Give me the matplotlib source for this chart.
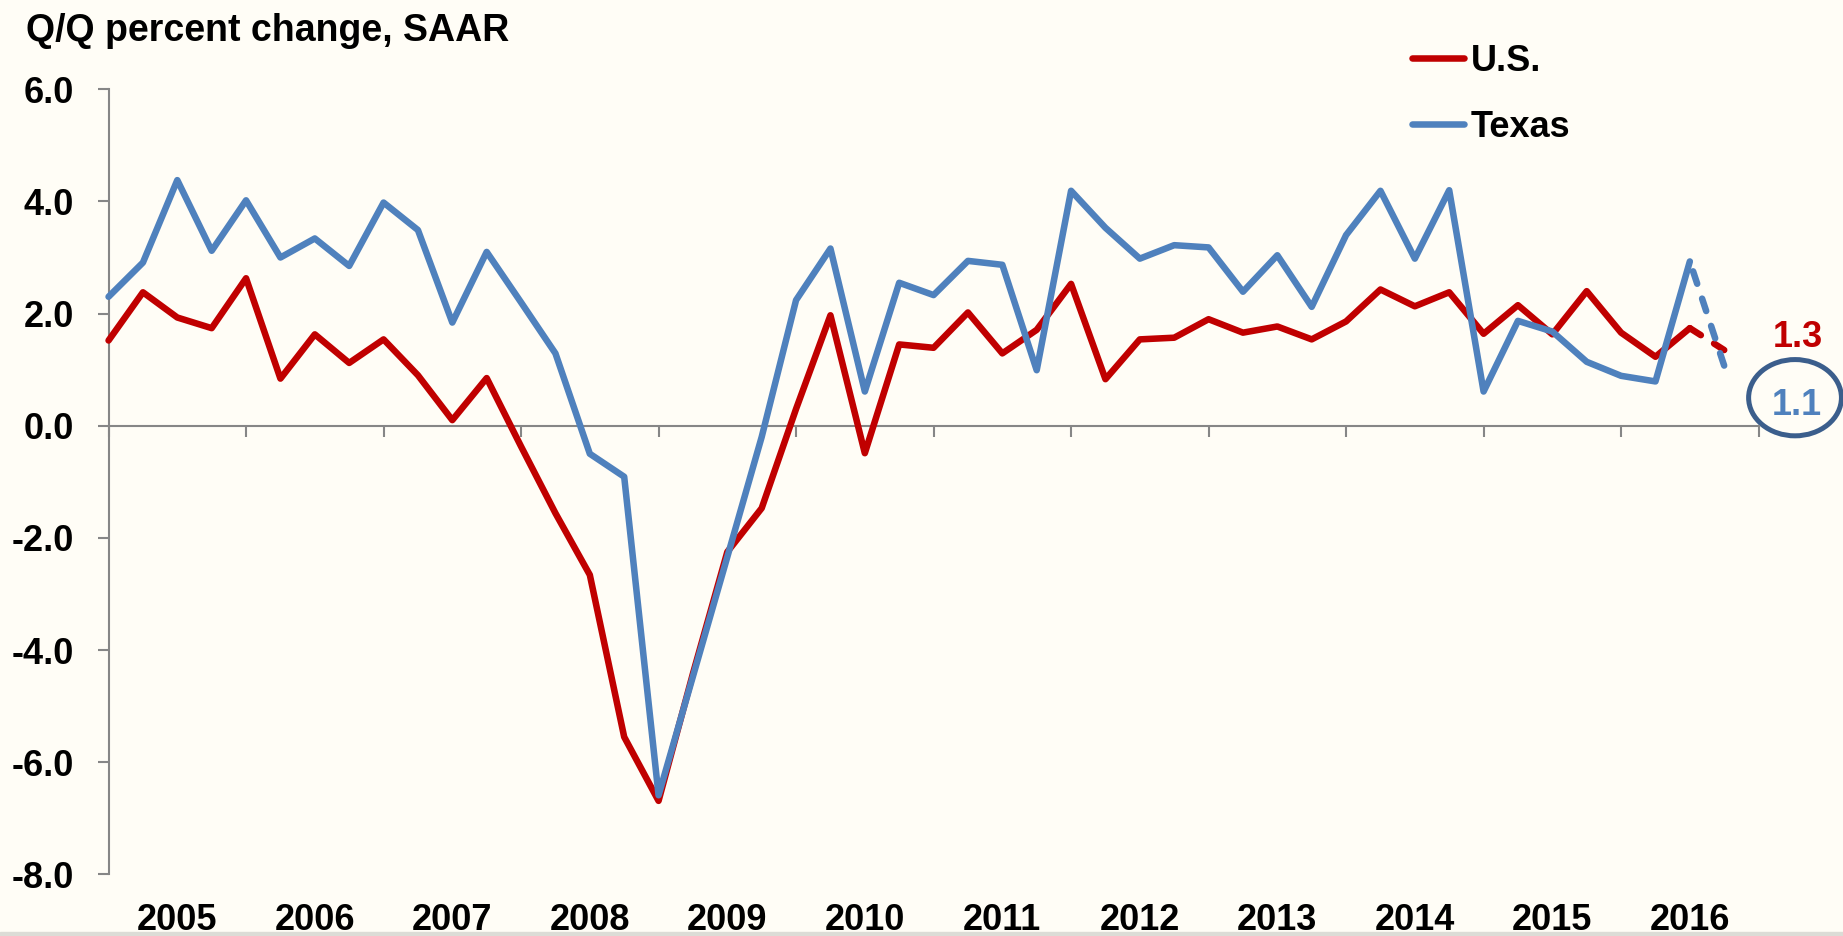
import numpy as np
import matplotlib.pyplot as plt
from matplotlib.patches import Ellipse, Rectangle

plt.rcParams['font.family'] = ['Liberation Sans', 'DejaVu Sans']
plt.rcParams['font.weight'] = 'bold'
plt.rcParams['axes.unicode_minus'] = False

# quarterly data, 2005Q1 .. 2016Q4 (last quarter is the estimate, dashed)
years = [str(y) for y in range(2005, 2017)]
us = [1.52, 2.38, 1.93, 1.74, 2.63, 0.84, 1.63, 1.12,
      1.54, 0.90, 0.10, 0.85, -0.37, -1.56, -2.66, -5.55,
      -6.69, -4.42, -2.25, -1.47, 0.30, 1.97, -0.49, 1.45,
      1.39, 2.02, 1.29, 1.71, 2.53, 0.83, 1.54, 1.57,
      1.90, 1.66, 1.77, 1.54, 1.86, 2.43, 2.13, 2.38,
      1.64, 2.15, 1.63, 2.40, 1.66, 1.23, 1.74, 1.35]
texas = [2.30, 2.91, 4.38, 3.12, 4.02, 3.00, 3.34, 2.85,
         3.98, 3.49, 1.84, 3.10, 2.20, 1.29, -0.50, -0.91,
         -6.59, -4.47, -2.34, -0.20, 2.24, 3.16, 0.61, 2.55,
         2.33, 2.94, 2.87, 0.99, 4.19, 3.53, 2.98, 3.22,
         3.18, 2.39, 3.04, 2.12, 3.40, 4.19, 2.98, 4.20,
         0.61, 1.87, 1.68, 1.14, 0.89, 0.79, 2.93, 1.07]
us_label = '1.3'
tx_label = '1.1'
yticks = [6, 4, 2, 0, -2, -4, -6, -8]

red = '#C00000'
blue = '#4F81BD'
gray = '#868686'
bg = '#FFFDF6'
lw = 4.7

fig = plt.figure(figsize=(18.43, 9.36), dpi=100, facecolor=bg)
fig.patches.append(Rectangle((0, 0), 1, 4 / 936, transform=fig.transFigure,
                             color='#DCDCD6', zorder=0))
ax = fig.add_axes([0.0589, 0.0659, 0.8953, 0.8387])
ax.set_facecolor(bg)

x = np.arange(len(us))
n = len(us) - 1
l_us, = ax.plot(x[:n], us[:n], color=red, lw=lw, label='U.S.',
                solid_capstyle='round', clip_on=False, zorder=3)
ax.plot(x[n - 1:], us[n - 1:], color=red, lw=lw, ls=(0, (2, 2.4)),
        dash_capstyle='round', clip_on=False, zorder=3)
l_tx, = ax.plot(x[:n], texas[:n], color=blue, lw=lw, label='Texas',
                solid_capstyle='round', clip_on=False, zorder=3)
ax.plot(x[n - 1:], texas[n - 1:], color=blue, lw=lw, ls=(2.8, (2, 2.4)),
        dash_capstyle='round', clip_on=False, zorder=3)

ax.set_xlim(0, 48)
ax.set_ylim(-8, 6)
ax.set_yticks(yticks)
ax.set_yticklabels([f'{v:.1f}' for v in yticks], fontsize=26, fontweight='bold')
ax.set_xticks(np.arange(0, 49, 4))
ax.set_xticklabels([])

for s in ['top', 'right']:
    ax.spines[s].set_visible(False)
ax.spines['bottom'].set_position(('data', 0))
for s in ['left', 'bottom']:
    ax.spines[s].set_color(gray)
    ax.spines[s].set_linewidth(1.5)
ax.tick_params(axis='both', color=gray, width=1.5, length=7.9, direction='out')
ax.tick_params(axis='y', pad=17)

for i, yr in enumerate(years):
    ax.text(4 * i + 2, -0.071, yr, transform=ax.get_xaxis_transform(),
            ha='center', va='baseline', fontsize=26, fontweight='bold')

fig.text(26 / 1843, 1 - 41 / 936, 'Q/Q percent change, SAAR',
         fontsize=27, fontweight='bold', va='baseline', ha='left')

ax.legend(handles=[l_us, l_tx], loc='upper left',
          bbox_to_anchor=(1412 / 1843, 1 - 44 / 936),
          bbox_transform=fig.transFigure, frameon=False,
          prop={'size': 26, 'weight': 'bold'},
          handlelength=1.45, handletextpad=0.17, labelspacing=0.86,
          borderpad=0, borderaxespad=0)

ax.text(49.15, 1.65, us_label, color=red, fontsize=26, fontweight='bold',
        ha='center', va='center_baseline', clip_on=False)
ax.text(49.12, 0.43, tx_label, color=blue, fontsize=26, fontweight='bold',
        ha='center', va='center_baseline', clip_on=False)
ax.add_patch(Ellipse((49.06, 0.50), 2.7, 1.36, fill=False, ec='#3B5E8C',
                     lw=3.6, clip_on=False))

fig.savefig('out.png', dpi=100, facecolor=bg)
